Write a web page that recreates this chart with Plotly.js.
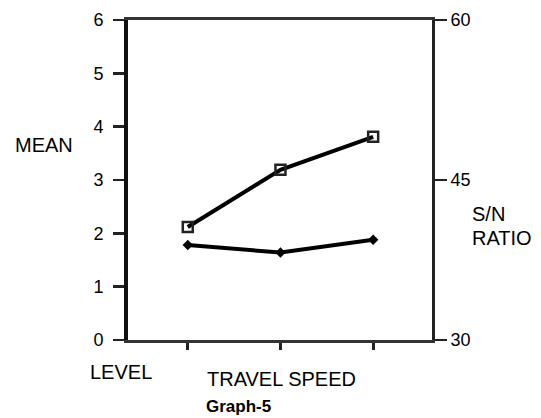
<!DOCTYPE html>
<html>
<head>
<meta charset="utf-8">
<script src="https://cdn.plot.ly/plotly-3.0.1.min.js"></script>
<style>html,body{margin:0;padding:0;background:#fff;}#chart{width:541px;height:418px;}</style>
</head>
<body>
<div id="chart"></div>
<script>
const levels = [1, 2, 3];
const meanValues = [2.12, 3.19, 3.81];
const snRatio = [38.9, 38.2, 39.4];
const meanTicks = [0, 1, 2, 3, 4, 5, 6];
const snTicks = [30, 45, 60];

const font = 'Liberation Sans, Arial, sans-serif';

const traces = [
  {
    x: levels, y: meanValues, type: 'scatter', mode: 'lines+markers',
    line: {color: '#000', width: 4},
    marker: {symbol: 'square-open', size: 10, color: '#222', line: {width: 2.5, color: '#222'}},
    yaxis: 'y', showlegend: false
  },
  {
    x: levels, y: snRatio, type: 'scatter', mode: 'lines+markers',
    line: {color: '#000', width: 4},
    marker: {symbol: 'diamond', size: 8, color: '#000'},
    yaxis: 'y2', showlegend: false
  }
];

const layout = {
  width: 541, height: 418,
  margin: {l: 128, r: 109, t: 20, b: 78},
  paper_bgcolor: '#fff', plot_bgcolor: '#fff',
  font: {family: font, size: 18, color: '#000'},
  xaxis: {
    range: [0.355, 3.635], tickvals: levels, showticklabels: false,
    ticks: 'outside', ticklen: 7, tickwidth: 3, tickcolor: '#222',
    showline: true, linewidth: 3, linecolor: '#333', mirror: true,
    showgrid: false, zeroline: false, fixedrange: true
  },
  yaxis: {
    range: [0, 6], tickvals: meanTicks, ticktext: meanTicks.map(String),
    ticks: 'outside', ticklen: 11, tickwidth: 2.5, tickcolor: '#222',
    ticklabelstandoff: 6,
    showline: true, linewidth: 4, linecolor: '#111',
    showgrid: false, zeroline: false,
    tickfont: {family: font, size: 18, color: '#000'}
  },
  yaxis3: {
    range: [0, 6], tickvals: meanTicks, showticklabels: false,
    overlaying: 'y', side: 'left', anchor: 'x',
    ticks: 'inside', ticklen: 5, tickwidth: 2.5, tickcolor: '#222',
    showline: false, showgrid: false, zeroline: false
  },
  yaxis2: {
    range: [30, 60], tickvals: snTicks, ticktext: snTicks.map(String),
    overlaying: 'y', side: 'right',
    ticks: 'outside', ticklen: 12, tickwidth: 2, tickcolor: '#222',
    showline: true, linewidth: 3, linecolor: '#222',
    showgrid: false, zeroline: false,
    tickfont: {family: font, size: 18, color: '#000'}
  },
  annotations: [
    {text: 'MEAN', x: 44, y: 145},
    {text: 'S/N', x: 470, y: 214, xanchor: 'left'},
    {text: 'RATIO', x: 470, y: 238, xanchor: 'left'},
    {text: 'LEVEL', x: 121, y: 372},
    {text: 'TRAVEL SPEED', x: 281, y: 379},
    {text: '<b>Graph-5</b>', x: 238, y: 406, size: 17}
  ].map(a => ({
    text: a.text, xref: 'paper', yref: 'paper',
    x: (a.x - 128) / (541 - 128 - 109),
    y: 1 - (a.y - 20) / (418 - 20 - 78),
    xanchor: a.xanchor || 'center', yanchor: 'middle',
    showarrow: false,
    font: {family: font, size: a.size || 20, color: '#000'}
  }))
};

Plotly.newPlot('chart', traces, layout, {staticPlot: true, displayModeBar: false});
</script>
</body>
</html>
